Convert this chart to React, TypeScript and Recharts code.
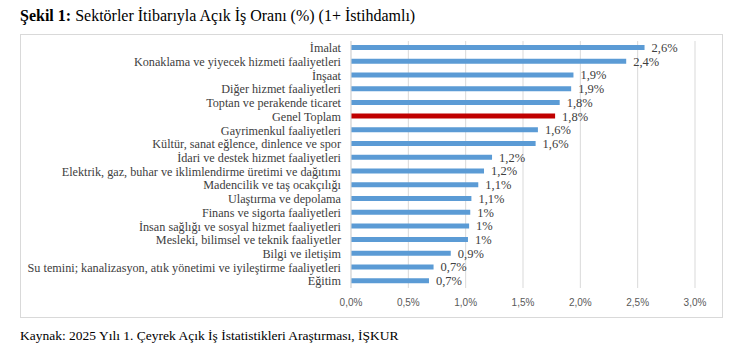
import React from 'react';
import { BarChart, Bar, XAxis, YAxis, CartesianGrid, Cell, LabelList } from 'recharts';

const categories = [
  'İmalat',
  'Konaklama ve yiyecek hizmeti faaliyetleri',
  'İnşaat',
  'Diğer hizmet faaliyetleri',
  'Toptan ve perakende ticaret',
  'Genel Toplam',
  'Gayrimenkul faaliyetleri',
  'Kültür, sanat eğlence, dinlence ve spor',
  'İdari ve destek hizmet faaliyetleri',
  'Elektrik, gaz, buhar ve iklimlendirme üretimi ve dağıtımı',
  'Madencilik ve taş ocakçılığı',
  'Ulaştırma ve depolama',
  'Finans ve sigorta faaliyetleri',
  'İnsan sağlığı ve sosyal hizmet faaliyetleri',
  'Mesleki, bilimsel ve teknik faaliyetler',
  'Bilgi ve iletişim',
  'Su temini; kanalizasyon, atık yönetimi ve iyileştirme faaliyetleri',
  'Eğitim',
];

const values = [2.56, 2.4, 1.94, 1.92, 1.82, 1.78, 1.63, 1.61, 1.23, 1.16, 1.11, 1.05, 1.04, 1.03, 1.02, 0.87, 0.72, 0.68];

const valueLabels = ['2,6%', '2,4%', '1,9%', '1,9%', '1,8%', '1,8%', '1,6%', '1,6%', '1,2%', '1,2%', '1,1%', '1,1%', '1%', '1%', '1%', '0,9%', '0,7%', '0,7%'];

const xTicks = [0, 0.5, 1, 1.5, 2, 2.5, 3];

const highlight = 'Genel Toplam';

const data = categories.map((name, i) => ({ name, value: values[i], label: valueLabels[i] }));

const serif = '"Liberation Serif", "Times New Roman", serif';
const sans = '"Liberation Sans", Arial, sans-serif';

const CategoryTick = (props: any) => {
  const { x, y, payload } = props;
  return (
    <text x={x} y={y} dy="0.355em" textAnchor="end" fontFamily={serif} fontSize={12.2} fill="#404040">
      {payload.value}
    </text>
  );
};

export default function App() {
  return (
    <div style={{ position: 'absolute', left: 0, top: 0, width: 750, height: 360, background: '#fff', fontFamily: serif }}>
      <div style={{ position: 'absolute', left: 20, top: 6, fontSize: 16, color: '#000', whiteSpace: 'nowrap', lineHeight: '20px' }}>
        <b>Şekil 1:</b> Sektörler İtibarıyla Açık İş Oranı (%) (1+ İstihdamlı)
      </div>
      <div style={{ position: 'absolute', left: 20, top: 34, width: 703, height: 284, boxSizing: 'border-box', border: '1px solid #d9d9d9' }} />
      <div style={{ position: 'absolute', left: 20, top: 34 }}>
        <BarChart
          width={703}
          height={284}
          data={data}
          layout="vertical"
          margin={{ top: 7, right: 28, bottom: 10, left: 0 }}
          barCategoryGap={0}
        >
          <CartesianGrid horizontal={false} vertical={true} stroke="#d9d9d9" />
          <XAxis
            type="number"
            domain={[0, 3]}
            ticks={xTicks}
            interval={0}
            axisLine={false}
            tickLine={false}
            tickSize={6}
            tickMargin={5}
            height={20}
            tickFormatter={(v: number) => v.toFixed(1).replace('.', ',') + '%'}
            tick={{ fontFamily: sans, fontSize: 10, fill: '#595959' }}
          />
          <YAxis
            type="category"
            dataKey="name"
            width={331}
            interval={0}
            axisLine={{ stroke: '#d9d9d9' }}
            tickLine={false}
            tickSize={8}
            tickMargin={2}
            tick={<CategoryTick />}
          />
          <Bar dataKey="value" barSize={5} isAnimationActive={false}>
            {data.map((d) => (
              <Cell key={d.name} fill={d.name === highlight ? '#C00000' : '#5B9BD5'} />
            ))}
            <LabelList dataKey="label" position="right" offset={7} style={{ fontFamily: serif, fontSize: 12.5, fill: '#404040' }} />
          </Bar>
        </BarChart>
      </div>
      <div style={{ position: 'absolute', left: 20, top: 326, fontSize: 13.5, color: '#000', whiteSpace: 'nowrap', lineHeight: '20px' }}>
        Kaynak: 2025 Yılı 1. Çeyrek Açık İş İstatistikleri Araştırması, İŞKUR
      </div>
    </div>
  );
}
